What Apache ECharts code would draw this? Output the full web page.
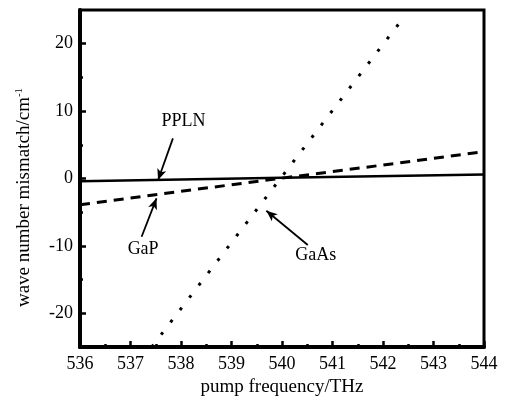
<!DOCTYPE html>
<html>
<head>
<meta charset="utf-8">
<script src="https://cdn.jsdelivr.net/npm/echarts@6/dist/echarts.min.js"></script>
<style>html,body{margin:0;padding:0;background:#fff;}#c{width:506px;height:396px;}</style>
</head>
<body>
<div id="c"></div>
<script>
// ---- data ----
const pplnX = [536, 540, 544];
const pplnY = [-0.4, 0.1, 0.6];
const gapX = [536, 538, 540, 542, 544];
const gapY = [-3.9, -1.9, 0.05, 2.0, 4.0];
const gaasX = [537.42, 538, 539, 540, 541, 542, 542.38];
const gaasY = [-25.0, -19.3, -9.5, 0.3, 10.1, 19.9, 23.6];
const xTicks = [536, 537, 538, 539, 540, 541, 542, 543, 544];
const yMajorTicks = [-20, -10, 0, 10, 20];
const yMinorTicks = [-15, -5, 5, 15];
const annotationNames = ['PPLN', 'GaP', 'GaAs'];
const annotationText = [[538.05, 8.46], [537.25, -10.46], [540.67, -11.35]];
const arrowFrom = [[537.84, 5.96], [537.22, -8.64], [540.51, -9.87]];
const arrowTo = [[537.546, -0.22], [537.515, -2.94], [539.69, -4.78]];

const FONT = 'Liberation Serif';
const pairs = (xs, ys) => xs.map((x, i) => [x, ys[i]]);

const chart = echarts.init(document.getElementById('c'), null, {renderer: 'canvas'});
chart.setOption({
  animation: false,
  backgroundColor: '#fff',
  grid: {left: 80, right: 22, top: 10, bottom: 49, show: true, borderColor: '#000', borderWidth: 3,
         containLabel: false, outerBoundsMode: 'none'},
  xAxis: {
    type: 'value', min: xTicks[0], max: xTicks[xTicks.length - 1], interval: 1,
    name: 'pump frequency/THz', nameLocation: 'middle', nameGap: 27,
    nameTextStyle: {fontFamily: FONT, fontSize: 19, color: '#000'},
    axisLine: {show: true, onZero: false, lineStyle: {color: '#000', width: 4}},
    axisTick: {show: true, inside: true, length: 6, lineStyle: {color: '#000', width: 2.5}},
    minorTick: {show: true, splitNumber: 2, length: 3, lineStyle: {color: '#000', width: 2.5}},
    axisLabel: {fontFamily: FONT, fontSize: 18, color: '#000', margin: 8},
    splitLine: {show: false}
  },
  yAxis: [{
    type: 'value', min: -25, max: 25,
    name: '{a|wave number mismatch/cm}{s|-1}', nameLocation: 'middle', nameGap: 45, nameRotate: 90,
    nameTextStyle: {fontFamily: FONT, fontSize: 19, color: '#000', padding: [0, 38, 0, 0],
      rich: {a: {fontFamily: FONT, fontSize: 19, color: '#000'}, s: {fontFamily: FONT, fontSize: 11, color: '#000', verticalAlign: 'top', padding: [0, 0, 10, 0]}}},
    axisLine: {show: true, onZero: false, lineStyle: {color: '#000', width: 4}},
    axisTick: {show: true, inside: true, length: 6, customValues: yMajorTicks, lineStyle: {color: '#000', width: 2.5}},
    axisLabel: {fontFamily: FONT, fontSize: 18, color: '#000', margin: 7, customValues: yMajorTicks},
    splitLine: {show: false}
  }, {
    type: 'value', min: -25, max: 25, position: 'left',
    axisLine: {show: false, onZero: false},
    axisTick: {show: true, inside: true, length: 3, customValues: yMinorTicks, lineStyle: {color: '#000', width: 2.5}},
    axisLabel: {show: false},
    splitLine: {show: false}
  }],
  series: [
    {type: 'line', name: 'PPLN', data: pairs(pplnX, pplnY), showSymbol: false, symbol: 'none',
     lineStyle: {color: '#000', width: 2.5, type: 'solid'}},
    {type: 'line', name: 'GaP', data: pairs(gapX, gapY), showSymbol: false, symbol: 'none',
     lineStyle: {color: '#000', width: 3, type: [10, 7]}},
    {type: 'line', name: 'GaAs', data: pairs(gaasX, gaasY), showSymbol: false, symbol: 'none',
     lineStyle: {color: '#000', width: 3, type: [3, 12.5]}},
    {type: 'line', name: 'annot', data: [], symbol: 'none', silent: true,
     markLine: {
       silent: true, animation: false,
       symbol: ['none', 'arrow'], symbolSize: [7, 11],
       lineStyle: {color: '#000', width: 1.8, type: 'solid'},
       label: {show: false},
       data: arrowFrom.map((f, i) => [{coord: f}, {coord: arrowTo[i]}])
     },
     markPoint: {
       silent: true, animation: false,
       symbol: 'rect', symbolSize: 1, itemStyle: {color: 'rgba(0,0,0,0)'},
       label: {show: true, position: 'inside', formatter: p => p.name, fontFamily: FONT, fontSize: 18, color: '#000'},
       data: annotationNames.map((n, i) => ({name: n, coord: annotationText[i]}))
     }}
  ]
});
</script>
</body>
</html>
